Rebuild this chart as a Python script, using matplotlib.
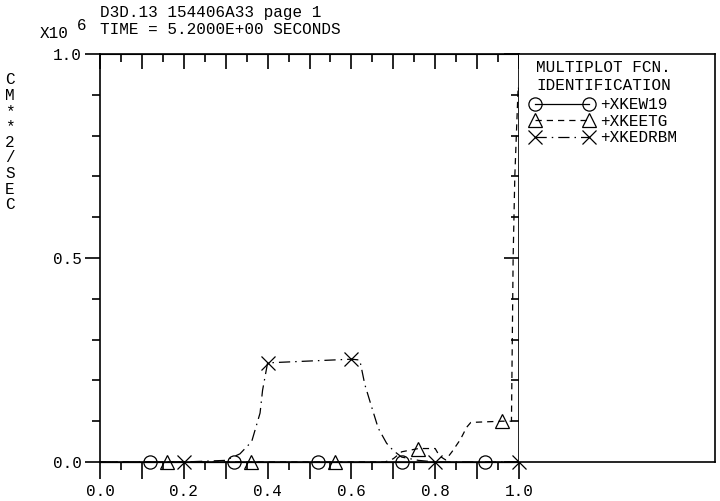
import matplotlib
matplotlib.use("Agg")
import matplotlib.pyplot as plt
from matplotlib.lines import Line2D
from matplotlib.ticker import MultipleLocator, FixedLocator, FuncFormatter

FONT = "Liberation Mono"
FS = 11.5

# values in units of 1e6 cm**2/sec
ew19_x = [0.0, 0.12, 0.32, 0.52, 0.72, 0.92, 1.0]
ew19_y = [0.0, 0.0, 0.0, 0.0, 0.0, 0.0, 0.0]
ew19_marks = [1, 2, 3, 4, 5]

etg_x = [0.0, 0.16, 0.36, 0.56, 0.68, 0.70, 0.72, 0.76, 0.80, 0.81, 0.825,
         0.84, 0.86, 0.875, 0.885, 0.96, 0.982, 0.986, 0.99, 0.998, 1.0]
etg_y = [0.0, 0.0, 0.0, 0.0, 0.0, 0.008, 0.025, 0.033, 0.033, 0.015, 0.005,
         0.025, 0.055, 0.085, 0.097, 0.10, 0.10, 0.50, 0.70, 0.92, 0.91]
etg_marks = [1, 2, 3, 7, 15]

drbm_x = [0.0, 0.2, 0.30, 0.334, 0.362, 0.382, 0.388, 0.40, 0.60, 0.62,
          0.624, 0.632, 0.648, 0.664, 0.684, 0.70, 0.72, 0.76, 0.80, 1.0]
drbm_y = [0.0, 0.0, 0.004, 0.02, 0.05, 0.12, 0.176, 0.243, 0.252, 0.25,
          0.23, 0.19, 0.136, 0.083, 0.046, 0.028, 0.012, 0.004, 0.0, 0.0]
drbm_marks = [1, 7, 8, 18, 19]

series_labels = ["+XKEW19", "+XKEETG", "+XKEDRBM"]
legend_title = ["MULTIPLOT FCN.", "IDENTIFICATION"]

header = ["D3D.13 154406A33 page 1", "TIME = 5.2000E+00 SECONDS"]
ylabel_chars = list("CM**2/SEC")

fig = plt.figure(figsize=(7.2, 5.01), dpi=100)
ax = fig.add_axes([100 / 720, 39 / 501, 419 / 720, 408 / 501])

styles = [
    dict(ls="-", marker="o"),
    dict(ls=(0, (5, 4)), marker="^"),
    dict(ls=(0, (9, 4, 1.2, 4)), marker="x"),
]
data = [(ew19_x, ew19_y, ew19_marks), (etg_x, etg_y, etg_marks),
        (drbm_x, drbm_y, drbm_marks)]

handles = []
for (xs, ys, mk), st, lab in zip(data, styles, series_labels):
    ax.plot(xs, ys, color="black", lw=0.9, linestyle=st["ls"],
            marker=st["marker"], markevery=mk, markersize=9.5,
            markerfacecolor="none", markeredgecolor="black",
            markeredgewidth=0.9, clip_on=False)
    handles.append(Line2D([], [], color="black", lw=0.9, linestyle=st["ls"],
                          marker=st["marker"], markersize=9.5,
                          markerfacecolor="none", markeredgewidth=0.9,
                          label=lab))

ax.set_xlim(0, 1)
ax.set_ylim(0, 1)
for s in ax.spines.values():
    s.set_linewidth(1.2)

# bottom / left ticks point outward
ax.xaxis.set_major_locator(MultipleLocator(0.1))
ax.xaxis.set_minor_locator(MultipleLocator(0.05))
ax.xaxis.set_major_formatter(FuncFormatter(
    lambda v, p: f"{v:.1f}" if round(v * 10) % 2 == 0 else ""))
ax.yaxis.set_major_locator(FixedLocator([0.0, 0.5, 1.0]))
ax.yaxis.set_minor_locator(MultipleLocator(0.1))
ax.yaxis.set_major_formatter(FuncFormatter(lambda v, p: f"{v:.1f}"))
ax.tick_params(axis="x", which="major", direction="out", length=12, width=1.2, pad=4)
ax.tick_params(axis="x", which="minor", direction="out", length=5.5, width=1.2)
ax.tick_params(axis="y", which="major", direction="out", length=11, width=1.2, pad=2)
ax.tick_params(axis="y", which="minor", direction="out", length=6, width=1.2)
for lab in ax.get_xticklabels() + ax.get_yticklabels():
    lab.set_fontfamily(FONT)
    lab.set_fontsize(FS)

# top / right ticks point inward
top = ax.secondary_xaxis("top")
top.xaxis.set_major_locator(MultipleLocator(0.1))
top.xaxis.set_minor_locator(MultipleLocator(0.05))
top.tick_params(which="major", direction="in", length=11, width=1.2, labeltop=False)
top.tick_params(which="minor", direction="in", length=5.5, width=1.2)
right = ax.secondary_yaxis("right")
right.yaxis.set_major_locator(FixedLocator([0.0, 0.5, 1.0]))
right.yaxis.set_minor_locator(MultipleLocator(0.1))
right.tick_params(which="major", direction="in", length=11, width=1.2, labelright=False)
right.tick_params(which="minor", direction="in", length=6, width=1.2)

# identification box to the right of the plot
box = fig.add_axes([519 / 720, 39 / 501, 196 / 720, 408 / 501])
box.set_xticks([])
box.set_yticks([])
box.spines["left"].set_visible(False)
for s in box.spines.values():
    s.set_linewidth(1.2)

for i, t in enumerate(legend_title):
    fig.text(536 / 720, 1 - (68 + i * 17) / 501, t, family=FONT, size=FS,
             va="center")

leg = fig.legend(handles=handles, loc="upper left",
                 bbox_to_anchor=(530 / 720, 1 - 97 / 501),
                 numpoints=2, handlelength=4.0, handleheight=0.5,
                 handletextpad=0.4, labelspacing=0.1, borderpad=0,
                 borderaxespad=0, frameon=False,
                 prop={"family": FONT, "size": FS})

# header and axis annotations
fig.text(100 / 720, 1 - 13 / 501, header[0], family=FONT, size=FS, va="center")
fig.text(100 / 720, 1 - 30 / 501, header[1], family=FONT, size=FS, va="center")
fig.text(40 / 720, 1 - 33 / 501, "X10", family=FONT, size=FS, va="center")
fig.text(77 / 720, 1 - 25 / 501, "6", family=FONT, size=FS, va="center")
for i, ch in enumerate(ylabel_chars):
    fig.text(10 / 720, 1 - (80 + i * 15.6) / 501, ch, family=FONT, size=FS,
             ha="center", va="center")

fig.savefig("out.png", dpi=100)
